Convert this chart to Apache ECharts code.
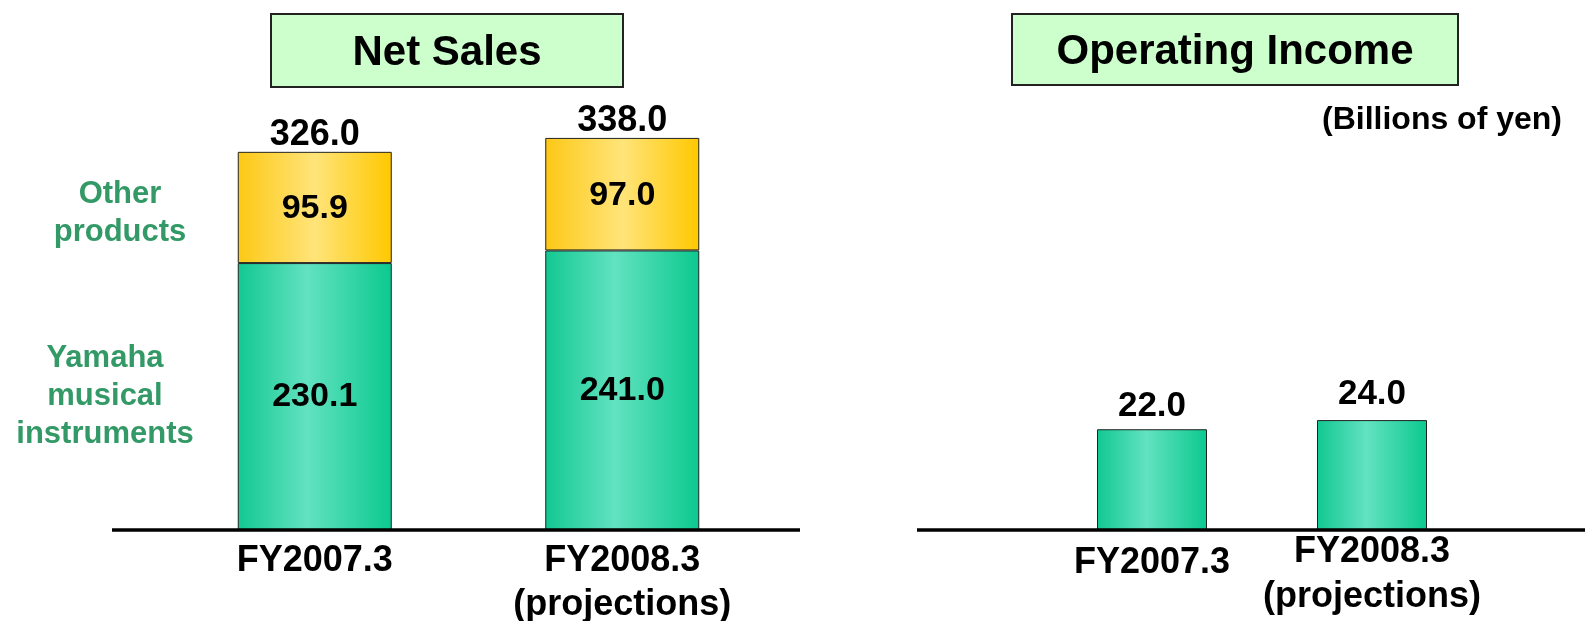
<!DOCTYPE html>
<html>
<head>
<meta charset="utf-8">
<script src="https://cdn.jsdelivr.net/npm/echarts@6/dist/echarts.min.js"></script>
<style>
  html, body { margin: 0; padding: 0; background: #ffffff; }
  #chart { width: 1585px; height: 621px; }
</style>
</head>
<body>
<div id="chart"></div>
<script>
// Fiscal years shown on both panels
const categories = ['FY2007.3', 'FY2008.3\n(projections)'];

// Net sales by segment (billions of yen)
const segmentNames = ['Yamaha\nmusical\ninstruments', 'Other\nproducts'];
const musicalInstruments = [230.1, 241.0];
const otherProducts = [95.9, 97.0];
const netSalesTotal = [326.0, 338.0];

// Operating income (billions of yen)
const operatingIncome = [22.0, 24.0];

const panelTitles = ['Net Sales', 'Operating Income'];
const unitNote = '(Billions of yen)';

const FONT = '"Liberation Sans", Arial, sans-serif';
const SEG_COLOR = '#339966';

const greenFill = new echarts.graphic.LinearGradient(0, 0, 1, 0, [
  { offset: 0, color: '#12c892' },
  { offset: 0.45, color: '#62e2c0' },
  { offset: 1, color: '#0cc98f' }
]);
const yellowFill = new echarts.graphic.LinearGradient(0, 0, 1, 0, [
  { offset: 0, color: '#fdc815' },
  { offset: 0.5, color: '#ffe47a' },
  { offset: 1, color: '#ffc800' }
]);

const BASE_Y = 530;          // baseline of both panels
const GRID_BOTTOM = 621 - BASE_Y;

const valueLabel = (size, distance, pos, offsetY) => ({
  show: true,
  position: pos,
  distance: distance,
  offset: [0, offsetY || 0],
  color: '#000',
  opacity: 1,
  fontFamily: FONT,
  fontWeight: 'bold',
  fontSize: size,
  formatter: p => Number(p.value).toFixed(1)
});

const chart = echarts.init(document.getElementById('chart'), null, { renderer: 'canvas' });

chart.setOption({
  backgroundColor: '#ffffff',
  animation: false,
  grid: [
    { left: 161, width: 615, top: 66, bottom: GRID_BOTTOM, containLabel: false, outerBoundsMode: 'none' },
    { left: 1042, width: 440, top: 72, bottom: GRID_BOTTOM, containLabel: false, outerBoundsMode: 'none' }
  ],
  xAxis: [
    {
      type: 'category', gridIndex: 0, data: categories,
      axisLine: { show: false }, axisTick: { show: false },
      axisLabel: {
        margin: 9, verticalAlign: 'top', lineHeight: 44,
        color: '#000', fontFamily: FONT, fontWeight: 'bold', fontSize: 36
      }
    },
    {
      type: 'category', gridIndex: 1, data: categories,
      axisLine: { show: false }, axisTick: { show: false },
      axisLabel: {
        margin: 0, verticalAlign: 'top',
        formatter: v => v.indexOf('\n') < 0
          ? '{solo|' + v + '}'
          : v.split('\n').map(s => '{line|' + s + '}').join('\n'),
        rich: {
          solo: { lineHeight: 66, color: '#000', fontFamily: FONT, fontWeight: 'bold', fontSize: 36 },
          line: { lineHeight: 45, color: '#000', fontFamily: FONT, fontWeight: 'bold', fontSize: 36 }
        }
      }
    }
  ],
  yAxis: [
    { type: 'value', gridIndex: 0, min: 0, max: 400, show: false, splitLine: { show: false } },
    { type: 'value', gridIndex: 1, min: 0, max: 100, show: false, splitLine: { show: false } }
  ],
  series: [
    {
      name: segmentNames[0], type: 'bar', stack: 'sales', xAxisIndex: 0, yAxisIndex: 0,
      barWidth: 154, data: musicalInstruments,
      itemStyle: { color: greenFill, borderColor: '#222', borderWidth: 1 },
      label: valueLabel(34, 0, 'inside', 0)
    },
    {
      name: segmentNames[1], type: 'bar', stack: 'sales', xAxisIndex: 0, yAxisIndex: 0,
      barWidth: 154, data: otherProducts,
      itemStyle: { color: yellowFill, borderColor: '#222', borderWidth: 1 },
      label: valueLabel(34, 0, 'inside', 1)
    },
    {
      // totals printed above each stack
      name: 'Net sales', type: 'scatter', xAxisIndex: 0, yAxisIndex: 0,
      data: netSalesTotal, symbolSize: 1, z: 5,
      itemStyle: { color: '#000', opacity: 0 },
      label: valueLabel(36, 0, 'top', 2),
      emphasis: { disabled: true }
    },
    {
      name: panelTitles[1], type: 'bar', xAxisIndex: 1, yAxisIndex: 1,
      barWidth: 110,
      data: operatingIncome.map((v, i) => ({ value: v, label: { distance: i === 0 ? 5 : 8 } })),
      itemStyle: { color: greenFill, borderColor: '#222', borderWidth: 1 },
      label: valueLabel(35, 5, 'top', 0)
    }
  ],
  graphic: [
    // panel title boxes
    { type: 'rect', shape: { x: 271, y: 14, width: 352, height: 73 },
      style: { fill: '#ccffcc', stroke: '#222', lineWidth: 2 }, z: 10 },
    { type: 'text', x: 447, y: 53, z: 11,
      style: { text: panelTitles[0], fill: '#000', font: 'bold 42px ' + FONT,
               textAlign: 'center', textVerticalAlign: 'middle' } },
    { type: 'rect', shape: { x: 1012, y: 14, width: 446, height: 71 },
      style: { fill: '#ccffcc', stroke: '#222', lineWidth: 2 }, z: 10 },
    { type: 'text', x: 1235, y: 52, z: 11,
      style: { text: panelTitles[1], fill: '#000', font: 'bold 42px ' + FONT,
               textAlign: 'center', textVerticalAlign: 'middle' } },
    // unit note
    { type: 'text', x: 1562, y: 120, z: 11,
      style: { text: unitNote, fill: '#000', font: 'bold 32px ' + FONT,
               textAlign: 'right', textVerticalAlign: 'middle' } },
    // segment names beside the stacked bars
    { type: 'text', x: 120, y: 175, z: 11,
      style: { text: segmentNames[1], fill: SEG_COLOR, font: 'bold 31px ' + FONT,
               lineHeight: 38, textAlign: 'center', textVerticalAlign: 'top' } },
    { type: 'text', x: 105, y: 339, z: 11,
      style: { text: segmentNames[0], fill: SEG_COLOR, font: 'bold 31px ' + FONT,
               lineHeight: 38, textAlign: 'center', textVerticalAlign: 'top' } },
    // baselines
    { type: 'line', z: 20, shape: { x1: 112, y1: BASE_Y, x2: 800, y2: BASE_Y },
      style: { stroke: '#000', lineWidth: 3.5 } },
    { type: 'line', z: 20, shape: { x1: 917, y1: BASE_Y, x2: 1585, y2: BASE_Y },
      style: { stroke: '#000', lineWidth: 3.5 } }
  ]
});
</script>
</body>
</html>
